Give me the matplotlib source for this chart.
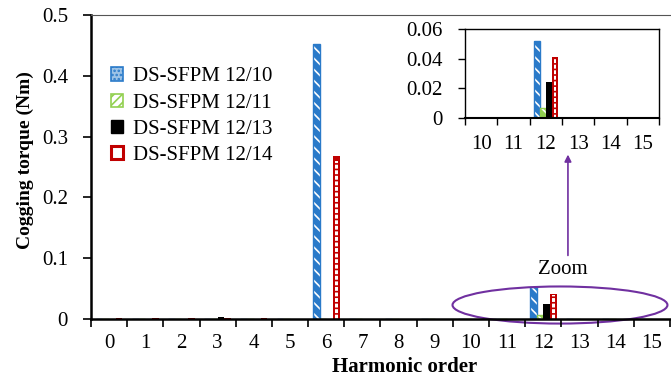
import matplotlib
matplotlib.use("Agg")
import matplotlib.pyplot as plt
import numpy as np
from matplotlib.patches import Patch, Ellipse

plt.rcParams['font.family'] = ['Liberation Serif', 'DejaVu Serif']
plt.rcParams['hatch.linewidth'] = 1.2

harmonics = list(range(16))
series = ['DS-SFPM 12/10', 'DS-SFPM 12/11', 'DS-SFPM 12/13', 'DS-SFPM 12/14']
t_1210 = [0, 0, 0, 0, 0, 0, 0.452, 0, 0, 0, 0, 0, 0.052, 0, 0, 0]
t_1211 = [0, 0.0006, 0, 0, 0, 0, 0, 0, 0, 0, 0, 0, 0.007, 0, 0, 0]
t_1213 = [0.0006, 0, 0.0006, 0.004, 0.0008, 0, 0, 0, 0, 0, 0, 0, 0.024, 0, 0, 0]
t_1214 = [0.0015, 0.001, 0.002, 0.001, 0.002, 0.0008, 0.268, 0, 0.0006, 0, 0.0006, 0, 0.041, 0.0006, 0, 0]

blue = '#2a7ac9'
green = '#92d050'
red = '#c00000'
purple = '#7030a0'

w = 0.185
offsets = [-1.5, -0.5, 0.5, 1.5]
fs = 15


def draw_bars(ax, xs, data, ymax):
    xs = np.asarray(xs)
    for k, (vals, off) in enumerate(zip(data, offsets)):
        pos = xs + off * w
        vals = np.asarray(vals)
        if k == 0 or k == 1:
            col = blue if k == 0 else green
            ax.bar(pos, vals, w, color=col, edgecolor='white', hatch='\\\\\\', linewidth=0)
            ax.bar(pos, vals, w, fill=False, edgecolor=col, linewidth=1)
        elif k == 2:
            ax.bar(pos, vals, w, color='black', linewidth=0)
        else:
            ax.bar(pos, vals, w, color=red, linewidth=0)
            big = vals > ymax * 0.03
            ax.bar(pos[big], vals[big] * 0.97, w * 0.4, facecolor='white', edgecolor=red,
                   hatch='---', linewidth=0)


fig = plt.figure(figsize=(6.71, 3.79), dpi=100)
ax = fig.add_axes([0.1356, 0.1583, 0.8629, 0.8021])
data = [t_1210, t_1211, t_1213, t_1214]
draw_bars(ax, harmonics, data, 0.5)

ax.set_xlim(-0.5, 15.5)
ax.set_ylim(0, 0.5)
ax.set_yticks([0, 0.1, 0.2, 0.3, 0.4, 0.5])
ax.set_yticklabels(['0', '0.1', '0.2', '0.3', '0.4', '0.5'], fontsize=fs)
ax.set_xticks(harmonics)
ax.set_xticklabels([str(h) for h in harmonics], fontsize=fs)
ax.set_xticks(np.arange(-0.5, 16, 1), minor=True)
ax.tick_params(axis='x', which='major', length=0, pad=11)
ax.tick_params(axis='x', which='minor', length=6, width=1.2, direction='out')
ax.tick_params(axis='y', length=5.5, width=1.2, direction='out', pad=11)
ax.spines['right'].set_visible(False)
ax.spines['top'].set_color('#555555')
ax.spines['top'].set_linewidth(0.8)
ax.spines['left'].set_linewidth(1.8)
ax.spines['bottom'].set_linewidth(1.8)
ax.set_ylabel('Cogging torque (Nm)', fontsize=14, fontweight='bold')
ax.yaxis.set_label_coords(-0.098, 0.523)
ax.set_xlabel('Harmonic order', fontsize=fs, fontweight='bold')
ax.xaxis.set_label_coords(0.542, -0.125)

handles = [
    Patch(facecolor='#9dc3e6', edgecolor=blue, hatch='....', linewidth=1.2),
    Patch(facecolor='white', edgecolor=green, hatch='////', linewidth=1.2),
    Patch(facecolor='black', edgecolor='black'),
    Patch(facecolor='white', edgecolor=red, linewidth=2.2),
]
ax.legend(handles, series, loc='upper left', bbox_to_anchor=(0.02, 0.855), frameon=False,
          fontsize=fs, handlelength=0.6, handleheight=0.6, handletextpad=0.45,
          labelspacing=0.34, borderaxespad=0)

# zoom marker
ax.add_patch(Ellipse((12.46, 0.023), 5.94, 0.061, fill=False, edgecolor=purple,
                     linewidth=1.5, clip_on=False))
ax.text(12.54, 0.082, 'Zoom', ha='center', va='center', fontsize=fs)
ax.annotate('', xy=(12.68, 0.275), xytext=(12.68, 0.100),
            arrowprops=dict(arrowstyle='-|>', color=purple, lw=1.2, mutation_scale=10))

# inset
ins = fig.add_axes([0.693, 0.6887, 0.289, 0.2348])
sub = harmonics[10:]
draw_bars(ins, sub, [d[10:] for d in data], 0.06)
ins.set_xlim(9.5, 15.5)
ins.set_ylim(0, 0.06)
ins.set_yticks([0, 0.02, 0.04, 0.06])
ins.set_yticklabels(['0', '0.02', '0.04', '0.06'], fontsize=fs)
ins.set_xticks(sub)
ins.set_xticklabels([str(h) for h in sub], fontsize=fs)
ins.set_xticks(np.arange(9.5, 16, 1), minor=True)
ins.tick_params(axis='x', which='major', length=0, pad=12)
ins.tick_params(axis='x', which='minor', length=5, width=1, direction='out')
ins.tick_params(axis='y', length=5, width=1, direction='out', pad=11)
for s in ins.spines.values():
    s.set_linewidth(1)
ins.spines['bottom'].set_linewidth(1.5)

fig.savefig('out.png', dpi=100)
